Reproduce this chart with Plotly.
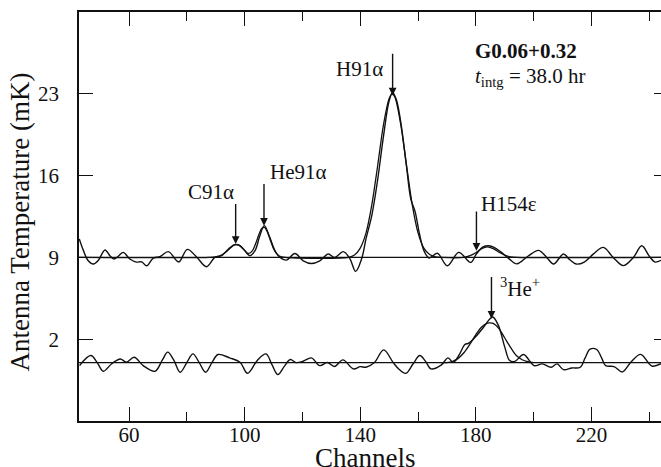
import plotly.graph_objects as go

# ---------------- data ----------------
upper_ch = [42.8, 44.2, 45.9, 47.7, 49.4, 51.7, 53.4, 54.8, 56.3, 58.0, 60.3, 62.6, 64.4, 66.1,
            68.4, 70.7, 73.6, 76.5, 77.4, 80.2, 83.3, 86.8, 89.7, 92.0, 94.3, 96.6, 98.4, 100.1,
            101.8, 103.6, 105.2, 106.8, 108.7, 110.5, 112.2, 114.5, 117.4, 120.3, 123.1, 126.0,
            128.9, 131.2, 134.1, 136.4, 138.4, 140.5, 142.0, 144.0, 146.0, 148.0, 150.0, 151.2,
            152.5, 154.0, 156.0, 157.5, 159.0, 160.5, 162.0, 163.8, 166.7, 170.1, 174.1, 178.2,
            180.2, 182.5, 184.5, 186.3, 188.5, 191.4, 194.2, 198.0, 201.7, 204.5, 206.9, 210.3,
            212.5, 214.7, 217.5, 220.7, 224.1, 227.5, 231.0, 234.5, 237.4, 240.0, 242.0, 244.0]
upper_val = [10.58, 9.6, 8.71, 8.43, 8.75, 9.63, 9.14, 8.86, 9.1, 9.43, 8.86, 8.6, 8.62, 8.28,
             8.94, 9.06, 9.49, 8.71, 8.63, 9.69, 9.06, 8.2, 9.0, 9.14, 9.7, 10.09, 10.0, 9.57,
             9.14, 9.57, 10.8, 11.72, 10.72, 9.57, 9.0, 8.77, 9.34, 8.71, 8.48, 8.71,
             9.29, 9.0, 9.49, 8.9, 7.8, 8.9, 10.6, 12.6, 15.6, 19.3, 22.4, 23.1,
             22.5, 20.6, 16.8, 14.0, 12.9, 11.0, 9.6, 8.95, 9.35, 8.29, 9.43, 8.57,
             9.3, 9.9, 10.0, 9.86, 9.5, 8.9, 8.45, 9.1, 9.6, 9.0, 8.43, 9.29,
             8.8, 8.43, 8.6, 9.3, 9.86, 9.0, 8.3, 9.0, 10.0, 9.1, 8.6, 8.75]

upper_fit_ch = [42.7, 88, 90, 92, 94, 96, 97, 98, 100, 101, 102, 103, 104, 105, 106, 107, 108,
                109, 110, 111, 112, 114, 136, 138, 140, 142, 144, 146, 148, 150, 151, 152, 154,
                156, 158, 160, 162, 164, 166, 168, 176, 178, 180, 182, 184, 186, 188, 190, 192,
                194, 244.05]
upper_fit_val = [9.0, 9.0, 9.05, 9.2, 9.55, 10.0, 10.1, 10.05, 9.6, 9.35, 9.4, 9.7, 10.3, 11.0,
                 11.5, 11.55, 11.1, 10.4, 9.75, 9.35, 9.12, 9.0, 9.0, 9.2, 9.8, 11.1, 13.5, 16.8,
                 20.3, 22.6, 23.0, 22.7, 20.4, 16.9, 13.5, 11.1, 9.8, 9.25, 9.05, 9.0, 9.0, 9.15,
                 9.4, 9.75, 9.9, 9.75, 9.45, 9.2, 9.05, 9.0, 9.0]

lower_ch = [42.9, 46.8, 49.0, 51.1, 54.0, 57.0, 59.1, 61.8, 64.9, 69.0, 71.5, 73.4, 75.5, 77.7,
            80.0, 82.1, 84.3, 86.5, 88.7, 90.8, 94.8, 98.4, 101.0, 104.5, 107.4, 109.5, 111.5,
            113.8, 115.8, 117.8, 120.2, 123.1, 126.0, 128.6, 131.1, 134.0, 137.6, 140.0, 142.0,
            144.9, 148.1, 151.4, 153.5, 155.8, 158.3, 160.6, 162.6, 164.5, 168.2, 170.3, 172.2,
            174.3, 176.2, 177.6, 179.8, 182.7, 184.9, 185.9, 187.8, 190.0, 191.7, 193.5, 196.5,
            200.1, 203.0, 206.0, 208.1, 210.3, 213.2, 216.1, 217.8, 219.5, 221.8, 223.5, 224.9,
            227.8, 230.7, 233.6, 237.0, 240.9, 244.0]
lower_val = [-0.26, 0.6, 0.0, -0.74, -0.1, 0.31, 0.03, 0.46, -0.26, -0.74, 0.2, 0.89, 0.2, -0.83,
             0.0, 0.74, 0.0, -0.83, 0.0, 0.69, 0.4, 0.03, -0.92, 0.23, 0.74, -0.2, -1.03,
             -0.3, 0.26, 0.0, 0.11, 0.4, -0.26, 0.0, -0.34, 0.23, -0.54, -0.35, -0.4,
             0.0, 1.09, 0.0, -0.6, -0.92, -0.1, 0.6, 0.1, -0.54, -0.17, 0.4, 0.03,
             0.7, 1.55, 1.66, 2.18, 3.04, 3.75, 3.9, 3.18, 1.32, 0.17, 0.1, 0.69,
             -0.26, -0.11, -0.4, -0.11, -0.6, -0.46, -0.4, 0.4, 1.15, 1.12, 0.4, -0.26,
             -0.34, -0.8, 0.03, 0.7, -0.3, -0.1]

lower_fit_ch = [168, 170, 172, 174, 176, 178, 180, 182, 184, 185, 186, 188, 190, 192, 194, 196,
                198, 200]
lower_fit_val = [0.0, 0.0, 0.1, 0.38, 0.88, 1.6, 2.4, 3.05, 3.38, 3.4, 3.35, 2.9, 2.1, 1.3, 0.6,
                 0.24, 0.07, 0.0]

baselines = [9, 0]
x_range = [42.7, 244.05]
y_range = [-5, 30]
x_major = [60, 100, 140, 180, 220]
x_minor = [80, 120, 160, 200, 240]
y_ticks = [2, 9, 16, 23]

lines = [("H91α", 151.2, 22.85, 26.55, 139.9, 25.13),
         ("He91α", 106.7, 11.71, 15.42, 118.8, 16.28),
         ("C91α", 96.9, 10.15, 13.7, 88.3, 14.57),
         ("H154ε", 180.2, 9.57, 13.06, 191.5, 13.57),
         ("<sup>3</sup>He<sup>+</sup>", 185.4, 3.75, 7.45, 195.3, 6.45)]

# ---------------- figure ----------------
INK = "#111111"
FONT = "Liberation Serif"
fig = go.Figure()

for b in baselines:
    fig.add_trace(go.Scatter(x=x_range, y=[b, b], mode="lines",
                             line=dict(color=INK, width=1.3), hoverinfo="skip"))

for xs, ys in [(upper_fit_ch, upper_fit_val), (lower_fit_ch, lower_fit_val)]:
    fig.add_trace(go.Scatter(x=xs, y=ys, mode="lines",
                             line=dict(color=INK, width=1.3, shape="spline", smoothing=0.8)))

for xs, ys in [(upper_ch, upper_val), (lower_ch, lower_val)]:
    fig.add_trace(go.Scatter(x=xs, y=ys, mode="lines",
                             line=dict(color=INK, width=1.4, shape="spline", smoothing=1.0)))

# invisible trace for the right-hand tick axis
fig.add_trace(go.Scatter(x=[x_range[0]], y=[y_range[0]], yaxis="y2", mode="markers",
                         marker=dict(opacity=0), hoverinfo="skip"))

annotations = []
for label, x, tip, top, tx, ty in lines:
    annotations.append(dict(x=x, y=tip, ax=x, ay=top, axref="x", ayref="y", xref="x", yref="y",
                            text="", showarrow=True, arrowhead=2, arrowsize=1.1,
                            arrowwidth=1.4, arrowcolor=INK))
    annotations.append(dict(x=tx, y=ty, xref="x", yref="y", text=label, showarrow=False,
                            xanchor="center", yanchor="middle",
                            font=dict(family=FONT, size=21, color=INK)))

annotations += [
    dict(x=179.0, y=26.7, xref="x", yref="y", xanchor="left", yanchor="middle",
         showarrow=False,
         text="<b>G0.06+0.32</b>", font=dict(family=FONT, size=21, color=INK)),
    dict(x=179.0, y=24.4, xref="x", yref="y", xanchor="left", yanchor="middle",
         showarrow=False,
         text="<i>t</i><sub>intg</sub> = 38.0 hr", font=dict(family=FONT, size=21, color=INK)),
    dict(x=(365.5 - 79) / (661 - 79), y=0.0, xref="paper", yref="paper", yshift=-37,
         xanchor="center", yanchor="middle", showarrow=False,
         text="Channels", font=dict(family=FONT, size=27, color=INK)),
    dict(x=0, y=(467 - 222.5 - 46) / (467 - 12 - 46), xref="paper", yref="paper",
         xshift=-59, xanchor="center", yanchor="middle", textangle=-90, showarrow=False,
         text="Antenna Temperature (mK)", font=dict(family=FONT, size=27, color=INK)),
]

fig.update_layout(
    template="none",
    width=661, height=467,
    margin=dict(l=79, r=0, t=12, b=46, autoexpand=False),
    paper_bgcolor="white", plot_bgcolor="white",
    showlegend=False,
    font=dict(family=FONT, size=21, color=INK),
    annotations=annotations,
    xaxis=dict(range=x_range, tickmode="array", tickvals=x_major,
               ticktext=[str(v) for v in x_major], automargin=False,
               ticks="inside", ticklen=14, tickwidth=1.3, tickcolor=INK,
               minor=dict(tickmode="array", tickvals=x_minor, ticks="inside", ticklen=9,
                          tickwidth=1.3, tickcolor=INK, showgrid=False),
               showline=True, linecolor=INK, linewidth=1.6, mirror="ticks",
               showgrid=False, zeroline=False, ticklabelstandoff=-6,
               tickfont=dict(family=FONT, size=21, color=INK)),
    yaxis=dict(range=y_range, tickmode="array", tickvals=y_ticks,
               ticktext=[str(v) for v in y_ticks], automargin=False,
               ticks="inside", ticklen=14, tickwidth=1.3, tickcolor=INK,
               showline=True, linecolor=INK, linewidth=1.6, mirror=False,
               showgrid=False, zeroline=False, ticklabelstandoff=14,
               tickfont=dict(family=FONT, size=21, color=INK)),
    yaxis2=dict(range=y_range, overlaying="y", side="right", tickmode="array",
                tickvals=y_ticks, ticks="inside", ticklen=7, tickwidth=1.3, tickcolor=INK,
                showticklabels=False, showline=False, showgrid=False, zeroline=False,
                automargin=False),
)

fig.write_html("out.html", config={"displayModeBar": False},
               post_script="document.body.style.margin='0';document.body.style.padding='0';")
